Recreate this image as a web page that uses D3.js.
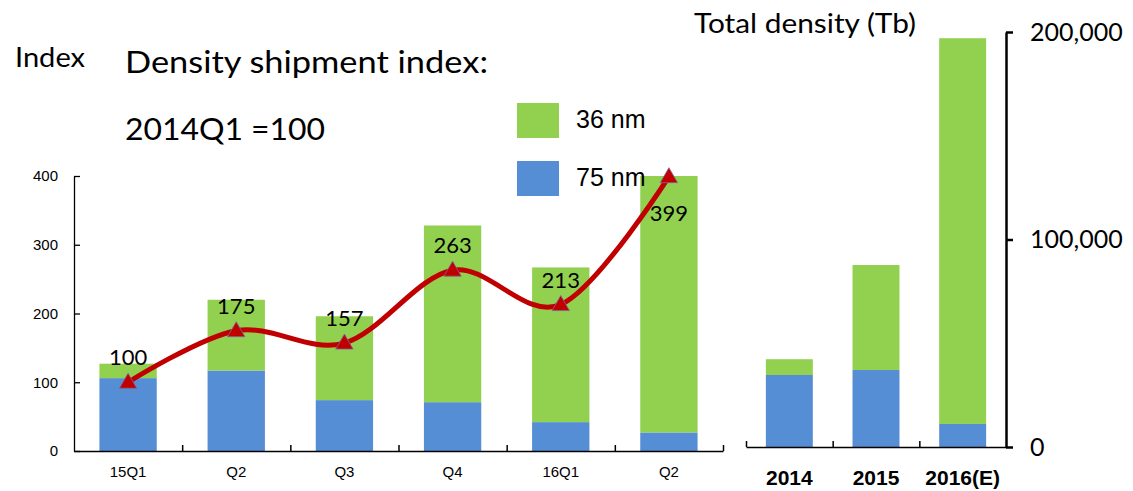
<!DOCTYPE html>
<html>
<head>
<meta charset="utf-8">
<script src="https://cdn.jsdelivr.net/npm/d3@7"></script>
<style>
  body { margin: 0; background: #fff; }
  svg { display: block; }
</style>
</head>
<body>
<svg id="chart"></svg>
<script>
// quarterly shipment index (left panel)
const quarters = ["15Q1", "Q2", "Q3", "Q4", "16Q1", "Q2"];
const nm75Index = [106, 117, 74, 71, 42, 27];
const nm36Index = [21, 103, 122, 257, 225, 373];
const shipmentIndex = [100, 175, 157, 263, 213, 399];
const indexTicks = [0, 100, 200, 300, 400];

// yearly total density (right panel)
const years = ["2014", "2015", "2016(E)"];
const nm75Tb = [34700, 37100, 11100];
const nm36Tb = [7600, 50600, 185900];
const densityTicks = [0, 100000, 200000];

const green = "#92D050", blue = "#558ED5", red = "#C00000";
const arial = "'Liberation Sans', Arial, sans-serif";
const cal = "Lato, 'Noto Sans', sans-serif";

const svg = d3.select("#chart").attr("width", 1133).attr("height", 491);

// ---------- left panel ----------
const xL = d3.scaleBand().domain(d3.range(quarters.length)).range([74, 723])
  .paddingInner(0.47).paddingOuter(0.235);
const xLedge = d3.scaleLinear().domain([0, quarters.length]).range([74, 723]);
const yL = d3.scaleLinear().domain([0, 400]).range([451, 176]);

const left = svg.append("g");

left.selectAll("rect.b75").data(nm75Index).join("rect")
  .attr("x", (d, i) => xL(i)).attr("width", xL.bandwidth())
  .attr("y", d => yL(d)).attr("height", d => yL(0) - yL(d))
  .attr("fill", blue);
left.selectAll("rect.b36").data(nm36Index).join("rect")
  .attr("x", (d, i) => xL(i)).attr("width", xL.bandwidth())
  .attr("y", (d, i) => yL(d + nm75Index[i])).attr("height", d => yL(0) - yL(d))
  .attr("fill", green);

// y axis
left.append("g").attr("transform", "translate(74,0)")
  .call(d3.axisLeft(yL).tickValues(indexTicks).tickSize(-6).tickSizeOuter(0).tickPadding(16))
  .call(g => g.selectAll("text").attr("font-family", arial).attr("font-size", 15).attr("fill", "#000"))
  .call(g => g.selectAll("line,path").attr("stroke", "#000").attr("stroke-width", 1.3));

// x axis: line + ticks at band edges
left.append("g").attr("transform", "translate(0,451)")
  .call(d3.axisBottom(xLedge).tickValues(d3.range(1, quarters.length + 1)).tickSize(-6).tickSizeOuter(0).tickFormat(""))
  .call(g => g.selectAll("line,path").attr("stroke", "#000").attr("stroke-width", 1.5));
left.append("g").attr("transform", "translate(0,451)")
  .call(d3.axisBottom(xL).tickSize(0).tickPadding(15).tickFormat(i => quarters[i]))
  .call(g => g.select(".domain").remove())
  .call(g => g.selectAll("text").attr("font-family", arial).attr("font-size", 15).attr("fill", "#000"));

// smooth index line
const cx = i => xL(i) + xL.bandwidth() / 2;
left.append("path").datum(shipmentIndex)
  .attr("d", d3.line().x((d, i) => cx(i)).y(d => yL(d)).curve(d3.curveCardinal.tension(0)))
  .attr("fill", "none").attr("stroke", red).attr("stroke-width", 5);
left.selectAll("path.tri").data(shipmentIndex).join("path")
  .attr("class", "tri")
  .attr("transform", (d, i) => `translate(${cx(i)},${yL(d) + 1})`)
  .attr("d", d3.symbol(d3.symbolTriangle, 130))
  .attr("fill", red).attr("stroke", "#8064A2").attr("stroke-width", 0.8);
left.selectAll("text.lab").data(shipmentIndex).join("text")
  .attr("class", "lab")
  .attr("x", (d, i) => cx(i))
  .attr("y", (d, i) => i === shipmentIndex.length - 1 ? yL(d) + 44 : yL(d) - 17)
  .attr("text-anchor", "middle")
  .attr("font-family", cal).attr("font-size", 22).attr("fill", "#000")
  .text(d => d);

// ---------- right panel ----------
const xR = d3.scaleBand().domain(years).range([746, 1006]).paddingInner(0.458).paddingOuter(0.229);
const xRedge = d3.scaleLinear().domain([0, years.length]).range([746, 1006]);
const yR = d3.scaleLinear().domain([0, 200000]).range([447, 32]);

const right = svg.append("g");
right.selectAll("rect.b75").data(nm75Tb).join("rect")
  .attr("x", (d, i) => xR(years[i])).attr("width", xR.bandwidth())
  .attr("y", d => yR(d)).attr("height", d => yR(0) - yR(d))
  .attr("fill", blue);
right.selectAll("rect.b36").data(nm36Tb).join("rect")
  .attr("x", (d, i) => xR(years[i])).attr("width", xR.bandwidth())
  .attr("y", (d, i) => yR(d + nm75Tb[i])).attr("height", d => yR(0) - yR(d))
  .attr("fill", green);

right.append("g").attr("transform", "translate(0,447)")
  .call(d3.axisBottom(xRedge).tickValues(d3.range(0, years.length)).tickSize(-6).tickSizeOuter(0).tickFormat(""))
  .call(g => g.selectAll("line,path").attr("stroke", "#000").attr("stroke-width", 1.5));
right.append("g").attr("transform", "translate(0,447)")
  .call(d3.axisBottom(xR).tickSize(0).tickPadding(23))
  .call(g => g.select(".domain").remove())
  .call(g => g.selectAll("text").attr("font-family", arial).attr("font-weight", "bold").attr("font-size", 21).attr("fill", "#000"));

right.append("g").attr("transform", "translate(1006,0)")
  .call(d3.axisRight(yR).tickValues(densityTicks).tickSize(7).tickSizeOuter(0).tickPadding(17).tickFormat(d3.format(",")))
  .call(g => g.selectAll("line,path").attr("stroke", "#000").attr("stroke-width", 2.5))
  .call(g => g.selectAll("text").attr("font-family", cal).attr("font-size", 25).attr("fill", "#000"));

// ---------- titles and legend ----------
const txt = (x, y, s, size, family, len) => {
  const t = svg.append("text").attr("x", x).attr("y", y).attr("font-family", family)
    .attr("font-size", size).attr("fill", "#000").text(s);
  if (len) t.attr("textLength", len).attr("lengthAdjust", "spacingAndGlyphs");
  return t;
};
txt(15, 67, "Index", 26, cal, 70);
txt(125, 73, "Density shipment index:", 31, cal, 363);
txt(125, 140, "2014Q1 =100", 31, cal, 200);
txt(694, 33, "Total density (Tb)", 26, cal, 222);

const legend = [{label: "36 nm", color: green, y: 103}, {label: "75 nm", color: blue, y: 161}];
legend.forEach(l => {
  svg.append("rect").attr("x", 517).attr("y", l.y).attr("width", 42).attr("height", 35).attr("fill", l.color);
  txt(576, l.y + 25, l.label, 25, arial);
});
</script>
</body>
</html>
